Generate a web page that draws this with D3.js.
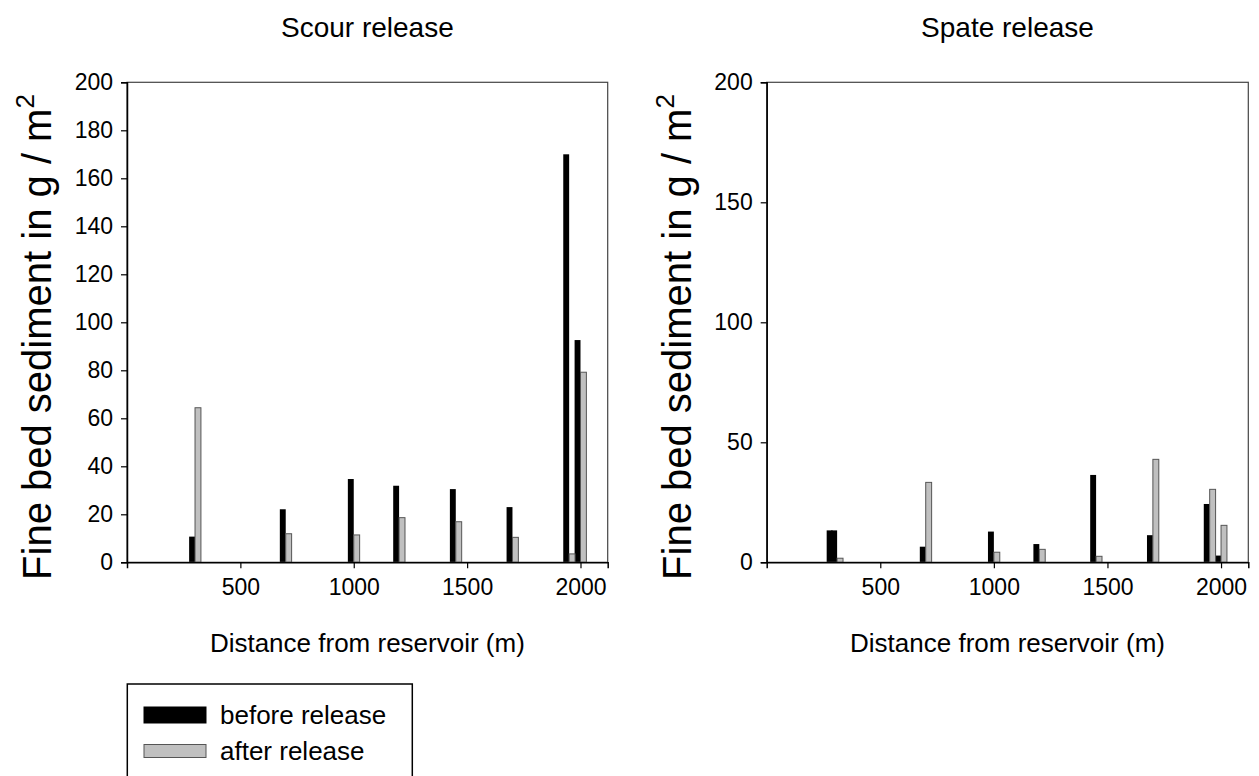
<!DOCTYPE html>
<html>
<head>
<meta charset="utf-8">
<script src="https://cdn.jsdelivr.net/npm/d3@7"></script>
<style>
  html, body { margin: 0; padding: 0; background: #fff; }
  svg { display: block; font-family: "Liberation Sans", Arial, sans-serif; }
</style>
</head>
<body>
<svg id="chart" width="1259" height="776"></svg>
<script>
// ---- data ----
const scourDistance = [300, 700, 1000, 1200, 1450, 1700, 1950, 2000];
const scourBefore   = [10.7, 22.1, 34.7, 31.9, 30.5, 23.0, 170, 92.6];
const scourAfter    = [64.4, 11.9, 11.4, 18.6, 16.9, 10.4, 3.5, 79.2];

const spateDistance = [290, 310, 700, 1000, 1200, 1450, 1700, 1950, 2000];
const spateBefore   = [13.3, 13.3, 6.5, 12.8, 7.6, 36.4, 11.3, 24.3, 2.8];
const spateAfter    = [0, 1.7, 33.3, 4.2, 5.4, 2.5, 42.9, 30.4, 15.4];

const xTicks = [500, 1000, 1500, 2000];
const scourYTicks = [0, 20, 40, 60, 80, 100, 120, 140, 160, 180, 200];
const spateYTicks = [0, 50, 100, 150, 200];

const panelTitles = ["Scour release", "Spate release"];
const xTitle = "Distance from reservoir (m)";
const yTitle = "Fine bed sediment in g / m";
const legendLabels = ["before release", "after release"];

// ---- styles ----
const colBefore = "#000000";
const colAfter = "#c0c0c0";
const strokeAfter = "#555555";
const barW = 26; // in data units (m)

const svg = d3.select("#chart");

const panels = [
  { title: panelTitles[0], dist: scourDistance, before: scourBefore, after: scourAfter,
    yTicks: scourYTicks, x0: 127, x1: 607.7 },
  { title: panelTitles[1], dist: spateDistance, before: spateBefore, after: spateAfter,
    yTicks: spateYTicks, x0: 766.7, x1: 1248.3 }
];
const yBottom = 562.3, yTop = 82.3;

panels.forEach(p => {
  const x = d3.scaleLinear().domain([0, 2120]).range([p.x0, p.x1]);
  const y = d3.scaleLinear().domain([0, 200]).range([yBottom, yTop]);
  const g = svg.append("g");

  // bars
  const rows = p.dist.map((d, i) => ({ d, b: p.before[i], a: p.after[i] }));
  g.selectAll("rect.before").data(rows).join("rect")
    .attr("class", "before")
    .attr("x", r => x(r.d - barW))
    .attr("width", r => x(r.d) - x(r.d - barW))
    .attr("y", r => y(r.b))
    .attr("height", r => y(0) - y(r.b))
    .attr("fill", colBefore);
  g.selectAll("rect.after").data(rows.filter(r => r.a > 0)).join("rect")
    .attr("class", "after")
    .attr("x", r => x(r.d))
    .attr("width", r => x(r.d + barW) - x(r.d))
    .attr("y", r => y(r.a))
    .attr("height", r => y(0) - y(r.a))
    .attr("fill", colAfter)
    .attr("stroke", strokeAfter)
    .attr("stroke-width", 1);

  // frame
  g.append("rect")
    .attr("x", p.x0).attr("y", yTop)
    .attr("width", p.x1 - p.x0).attr("height", yBottom - yTop)
    .attr("fill", "none").attr("stroke", "#444").attr("stroke-width", 1.2);

  // axes
  const xAxis = d3.axisBottom(x).tickValues(xTicks).tickSize(6).tickPadding(10).tickFormat(d3.format("d"));
  const gx = g.append("g").attr("transform", `translate(0,${yBottom})`).call(xAxis);
  const yAxis = d3.axisLeft(y).tickValues(p.yTicks).tickSize(6).tickPadding(8).tickFormat(d3.format("d"));
  const gy = g.append("g").attr("transform", `translate(${p.x0},0)`).call(yAxis);
  [gx, gy].forEach(a => {
    a.select(".domain").attr("stroke", "#000").attr("stroke-width", 1.5);
    a.selectAll(".tick line").attr("stroke", "#000").attr("stroke-width", 1.2);
    a.selectAll(".tick text").attr("font-size", 23).attr("fill", "#000")
      .attr("font-family", "'Liberation Sans', Arial, sans-serif");
  });

  // titles
  const cx = (p.x0 + p.x1) / 2;
  g.append("text").attr("x", cx).attr("y", 37).attr("text-anchor", "middle")
    .attr("font-size", 28).text(p.title);
  g.append("text").attr("x", cx).attr("y", 652).attr("text-anchor", "middle")
    .attr("font-size", 26).text(xTitle);
  const yt = g.append("text")
    .attr("transform", `translate(${p.x0 - 76},${337}) rotate(-90)`)
    .attr("text-anchor", "middle").attr("font-size", 40);
  yt.append("tspan").text(yTitle);
  yt.append("tspan").attr("font-size", 26).attr("dy", -17).text("2");
});

// legend
const lg = svg.append("g");
lg.append("rect").attr("x", 127.3).attr("y", 684).attr("width", 285).attr("height", 110)
  .attr("fill", "none").attr("stroke", "#000").attr("stroke-width", 1.5);
const legendFills = [colBefore, colAfter];
const legendStrokes = [colBefore, strokeAfter];
const swatchY = [707, 744.5];
const swatchH = [16, 13];
legendLabels.forEach((lab, i) => {
  lg.append("rect").attr("x", 144).attr("y", swatchY[i]).attr("width", 62).attr("height", swatchH[i])
    .attr("fill", legendFills[i]).attr("stroke", legendStrokes[i]).attr("stroke-width", 1);
  lg.append("text").attr("x", 220).attr("y", 724 + i * 35.5).attr("font-size", 26).text(lab);
});
</script>
</body>
</html>
